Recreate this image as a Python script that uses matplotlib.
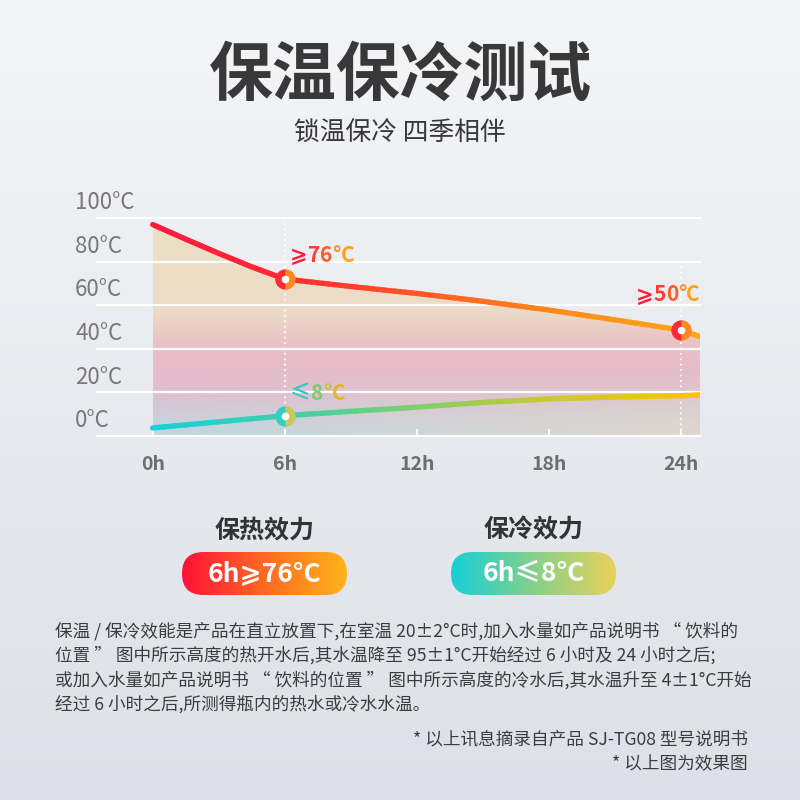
import numpy as np
import matplotlib
matplotlib.use("Agg")
import matplotlib.pyplot as plt
from matplotlib.collections import LineCollection
from matplotlib.colors import LinearSegmentedColormap, to_rgb
from matplotlib.patches import FancyBboxPatch, Polygon

plt.rcParams['font.family'] = ['Noto Sans CJK SC', 'DejaVu Sans']

# data
hours_hot = [0, 1.5, 3, 4.5, 6, 9, 12, 15, 18, 21, 24, 24.9]
temp_hot = [97, 90.3, 83.8, 77.6, 72, 68.6, 65.4, 61.8, 57.8, 53.3, 48.6, 45.5]
hours_cold = [0, 3, 6, 9, 12, 15, 18, 21, 24, 24.9]
temp_cold = [3.7, 6.5, 9.3, 11.3, 13.2, 15.4, 17.0, 17.9, 18.5, 18.8]
y_ticks = [0, 20, 40, 60, 80, 100]
y_labels = ['0°C', '20°C', '40°C', '60°C', '80°C', '100°C']
x_ticks = [0, 6, 12, 18, 24]
x_labels = ['0h', '6h', '12h', '18h', '24h']
hot_marks = [6, 24]
cold_marks = [6]
hot_notes = ['⩾76°C', '⩾50°C']
cold_notes = ['≤8°C']

title = '保温保冷测试'
subtitle = '锁温保冷 四季相伴'
badge_titles = ['保热效力', '保冷效力']
badge_texts = ['6h⩾76°C', '6h≤8°C']
paragraph = [
    '保温 / 保冷效能是产品在直立放置下,在室温 20±2°C时,加入水量如产品说明书 “ 饮料的',
    '位置 ” 图中所示高度的热开水后,其水温降至 95±1°C开始经过 6 小时及 24 小时之后;',
    '或加入水量如产品说明书 “ 饮料的位置 ” 图中所示高度的冷水后,其水温升至 4±1°C开始',
    '经过 6 小时之后,所测得瓶内的热水或冷水水温。',
]
notes = ['* 以上讯息摘录自产品 SJ-TG08 型号说明书', '* 以上图为效果图']

hot_cmap = LinearSegmentedColormap.from_list(
    'hot', ['#ff1a3c', '#ff2a33', '#ff5a24', '#ff8c1c', '#ffa815'])
cold_cmap = LinearSegmentedColormap.from_list(
    'cold', ['#17cfd8', '#3fd0a8', '#86cf68', '#d2c82c', '#f8c600'])

fig = plt.figure(figsize=(8, 8), dpi=100)

# background + page layout in pixel coordinates
bg = fig.add_axes([0, 0, 1, 1], zorder=0)
bg.axis('off')
top = np.array(to_rgb('#f4f5f7'))
bot = np.array(to_rgb('#dde0e8'))
t = np.linspace(0, 1, 256)[:, None, None]
bg.imshow(top * (1 - t) + bot * t, extent=[0, 800, 800, 0], aspect='auto')

bg.text(400, 76, title, ha='center', va='center', fontsize=46,
        fontweight='bold', color='#383838')
bg.text(400, 134, subtitle, ha='center', va='center', fontsize=18.5,
        color='#383838')

pill_x = [182, 451]
pill_cols = [['#ff1039', '#ff6a22', '#ffb41a'], ['#16cfd6', '#86d08a', '#e8d25a']]
for i in range(2):
    cx = pill_x[i] + 82.5
    bg.text(cx, 531, badge_titles[i], ha='center', va='center', fontsize=18,
            fontweight='bold', color='#333333')
    box = FancyBboxPatch((pill_x[i], 552), 165, 43,
                         boxstyle='round,pad=0,rounding_size=21.5',
                         facecolor='none', edgecolor='none')
    bg.add_patch(box)
    cm = LinearSegmentedColormap.from_list('p%d' % i, pill_cols[i])
    g = np.linspace(0, 1, 256)[None, :]
    im = bg.imshow(g, cmap=cm, extent=[pill_x[i], pill_x[i] + 165, 595, 552],
                   aspect='auto')
    im.set_clip_path(box)
    bg.text(cx, 574, badge_texts[i], ha='center', va='center', fontsize=19,
            fontweight='bold', color='white')
bg.set_xlim(0, 800)
bg.set_ylim(800, 0)

for i, line in enumerate(paragraph):
    bg.text(55, 631 + i * 24.6, line, ha='left', va='center', fontsize=12.7,
            color='#3c3c3c')
for i, line in enumerate(notes):
    bg.text(748, 739 + i * 25, line, ha='right', va='center', fontsize=12.7,
            color='#3c3c3c')

# chart
ax = fig.add_axes([97 / 800, 0.455, 603 / 800, 0.2725], zorder=2)
ax.set_facecolor('none')
ax.set_xlim(-2.53, 24.88)
ax.set_ylim(0, 100)
for s in ax.spines.values():
    s.set_visible(False)

# gradient area under the hot curve
ny, nx = 200, 200
yy = np.linspace(0, 100, ny)[:, None]
xx = np.linspace(0, 1, nx)[None, :]
stops_y = [0, 8, 20, 35, 45, 58, 100]
stops_c = np.array([to_rgb(c) for c in
                    ['#bcd8e0', '#cccfdc', '#dfbfce', '#e9bcc8', '#eac6c6',
                     '#ecdcc6', '#ece0c6']])
col = np.stack([np.interp(yy[:, 0], stops_y, stops_c[:, k]) for k in range(3)], -1)
col = np.repeat(col[:, None, :], nx, axis=1)
beige = np.array(to_rgb('#e6d6c8'))
w = (np.clip((28 - yy) / 28, 0, 1) * xx)[..., None] * 0.85
col = col * (1 - w) + beige * w
fill_img = ax.imshow(col, origin='lower', extent=[0, hours_hot[-1], 0, 100],
                     aspect='auto', zorder=1)
poly = Polygon(list(zip(hours_hot, temp_hot)) + [(hours_hot[-1], 0), (0, 0)],
               closed=True, facecolor='none', edgecolor='none',
               transform=ax.transData)
ax.add_patch(poly)
fill_img.set_clip_path(poly)

for v in y_ticks:
    ax.axhline(v, color='white', lw=1.6, zorder=2, clip_on=False)
for v, lab in zip(y_ticks, y_labels):
    ax.text(-3.53, v + 7, lab, ha='left', va='center', fontsize=16,
            fontweight='medium', color='#777777', clip_on=False)

ax.set_xticks(x_ticks)
ax.set_xticklabels(x_labels, fontsize=14, fontweight='bold', color='#6e6e6e')
ax.tick_params(axis='x', direction='in', length=5, width=1.5, color='white',
               pad=14)
ax.set_yticks([])

ax.vlines(hot_marks[0], 0, 100, colors='white', linestyles=(0, (1, 2)), lw=1.3, zorder=3)
ax.vlines(hot_marks[1], 0, 80, colors='white', linestyles=(0, (1, 2)), lw=1.3, zorder=3)


def gradient_line(xs, ys, cmap):
    xs = np.asarray(xs, float)
    ys = np.asarray(ys, float)
    pts = []
    for k in range(len(xs) - 1):
        f = np.linspace(0, 1, 12, endpoint=False)
        pts.append(np.column_stack([xs[k] + f * (xs[k + 1] - xs[k]),
                                    ys[k] + f * (ys[k + 1] - ys[k])]))
    pts.append([[xs[-1], ys[-1]]])
    pts = np.vstack(pts)
    segs = np.stack([pts[:-1], pts[1:]], axis=1)
    lc = LineCollection(segs, cmap=cmap, linewidth=3.8, capstyle='round',
                        joinstyle='round', zorder=4)
    lc.set_array(pts[:-1, 0] / xs[-1])
    lc.set_clim(0, 1)
    ax.add_collection(lc)


gradient_line(hours_hot, temp_hot, hot_cmap)
gradient_line(hours_cold, temp_cold, cold_cmap)


def ring(x, y, c1, cm, c2):
    ax.plot([x], [y], marker='o', ms=14.5, color=cm, markeredgewidth=0,
            zorder=6, clip_on=False)
    ax.plot([x], [y], marker='o', ms=14.5, fillstyle='left', markerfacecolor=c1,
            markerfacecoloralt=c2, markeredgewidth=0, alpha=0.75, zorder=6,
            clip_on=False)
    ax.plot([x], [y], marker='o', ms=5.5, color='white', markeredgewidth=0,
            zorder=7, clip_on=False)


for h in hot_marks:
    ring(h, temp_hot[hours_hot.index(h)], '#ff1a3c', '#ff5a2a', '#ff9a1c')
for h in cold_marks:
    ring(h, temp_cold[hours_cold.index(h)], '#17cfd8', '#7ccc90', '#e6c84a')


def rainbow(x, y, text, colors, ha='left', size=15):
    chars = list(text)
    kw = dict(fontsize=size, fontweight='bold', zorder=8)
    if ha == 'left':
        prev = ax.text(x, y, chars[0], color=colors[0], ha='left', va='center', **kw)
        for ch, c in zip(chars[1:], colors[1:]):
            prev = ax.annotate(ch, xy=(1, 0), xycoords=prev, color=c,
                               ha='left', va='bottom', **kw)
    else:
        prev = ax.text(x, y, chars[-1], color=colors[-1], ha='right', va='center', **kw)
        for ch, c in zip(chars[-2::-1], colors[-2::-1]):
            prev = ax.annotate(ch, xy=(0, 0), xycoords=prev, color=c,
                               ha='right', va='bottom', **kw)


hot_text_cols = ['#ff1a3c', '#ff3a33', '#ff5a28', '#ff8a1e', '#ffa015']
rainbow(6.25, 83, hot_notes[0], hot_text_cols)
rainbow(24.88, 64.7, hot_notes[1], hot_text_cols, ha='right')
rainbow(6.25, 19.7, cold_notes[0], ['#2ccac4', '#7ccc72', '#c6c040', '#e2b630'])

fig.savefig('out.png', dpi=100)
